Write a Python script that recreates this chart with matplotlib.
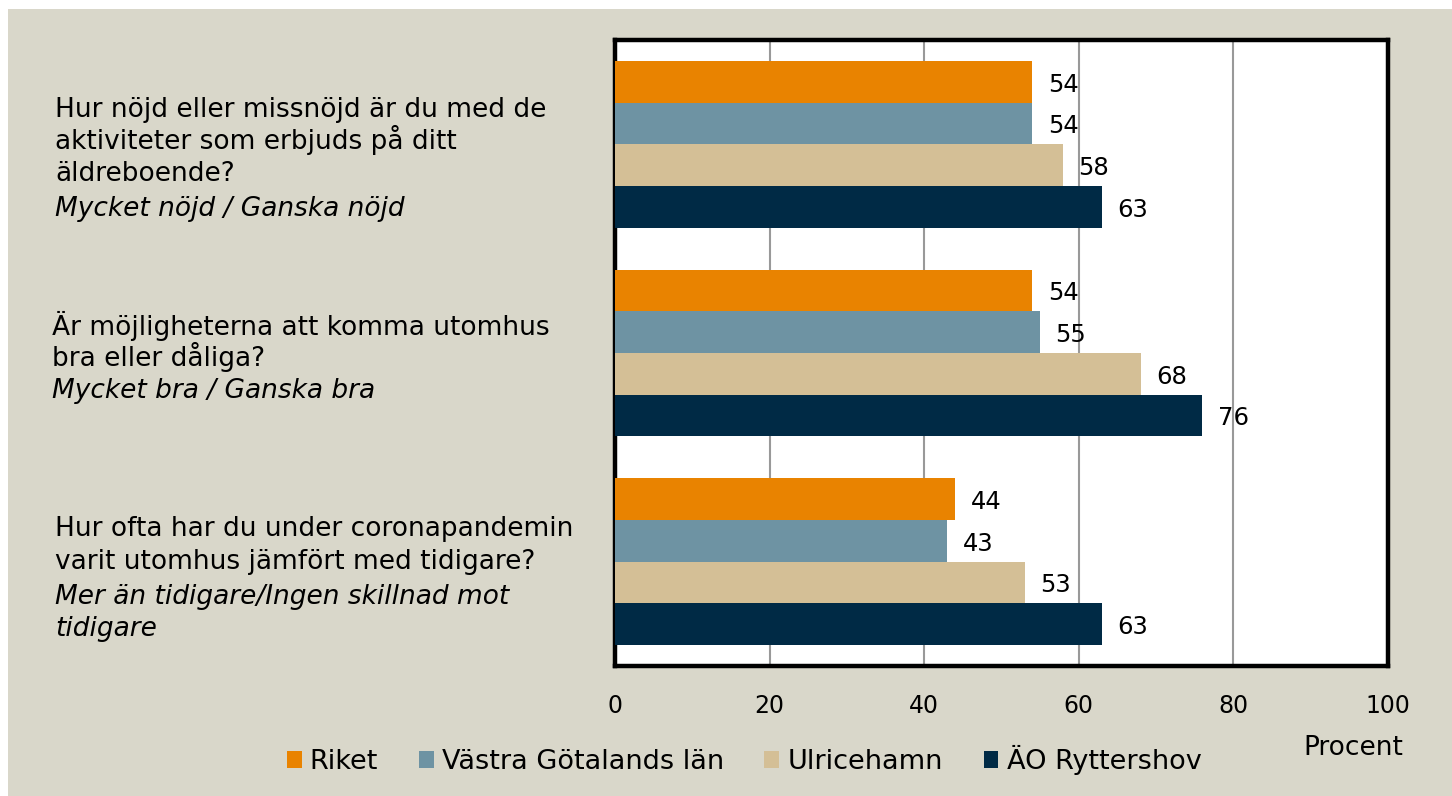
import matplotlib.pyplot as plt
from matplotlib.patches import Rectangle
import numpy as np

# data
question_lines = [["Hur nöjd eller missnöjd är du med de", "aktiviteter som erbjuds på ditt", "äldreboende?"],
                  ["Är möjligheterna att komma utomhus", "bra eller dåliga?"],
                  ["Hur ofta har du under coronapandemin", "varit utomhus jämfört med tidigare?"]]
subtitle_lines = [["Mycket nöjd / Ganska nöjd"],
                  ["Mycket bra / Ganska bra"],
                  ["Mer än tidigare/Ingen skillnad mot", "tidigare"]]
series = ["Riket", "Västra Götalands län", "Ulricehamn", "ÄO Ryttershov"]
riket = [54, 54, 44]
vg_lan = [54, 55, 43]
ulricehamn = [58, 68, 53]
ryttershov = [63, 76, 63]
values = [riket, vg_lan, ulricehamn, ryttershov]
colors = ["#E98300", "#6E93A3", "#D4BF96", "#002A45"]
bg = "#D9D7CA"

plt.rcParams['font.family'] = ['DejaVu Sans']

W, H = 1452, 796
fig = plt.figure(figsize=(W / 100, H / 100), dpi=100)
fig.patch.set_facecolor('white')
fig.patches.append(Rectangle((8 / W, 0), 1, 1 - 9 / H,
                             transform=fig.transFigure, facecolor=bg,
                             edgecolor='none', zorder=-10))

ax = fig.add_axes([615 / W, 1 - 666 / H, 773 / W, 626 / H])
ax.set_facecolor('white')

y = np.arange(len(question_lines))
h = 0.2
for i, (vals, c) in enumerate(zip(values, colors)):
    pos = y - 0.3 + i * h
    ax.barh(pos, vals, height=h, color=c, label=series[i], zorder=3)
    for p, v in zip(pos, vals):
        ax.annotate(str(v), (v, p), xytext=(11, -2), textcoords='offset points',
                    ha='left', va='center', fontsize=17.5, color='black')

ax.set_xlim(0, 100)
ax.set_ylim(2.5, -0.5)
ax.set_xticks([0, 20, 40, 60, 80, 100])
ax.set_yticks([])
ax.tick_params(axis='x', length=0, pad=20, labelsize=17)
ax.grid(axis='x', color='#999999', linewidth=1.5, zorder=0)
for s in ax.spines.values():
    s.set_linewidth(3.2)
    s.set_color('black')

# question texts on the left, one line at a time (baseline pixel rows)
baselines = [[117, 149, 181, 216], [335, 366, 398], [536, 569, 604, 636]]
xs = [55, 52, 55]
for ql, sl, bl, x0 in zip(question_lines, subtitle_lines, baselines, xs):
    for j, line in enumerate(ql + sl):
        italic = j >= len(ql)
        fig.text(x0 / W, 1 - bl[j] / H, line, ha='left', va='baseline',
                 fontsize=19, style='italic' if italic else 'normal')

fig.legend(loc='center', bbox_to_anchor=(744 / W, 1 - 760 / H), ncol=4,
           frameon=False, fontsize=19.5, handlelength=0.55, handleheight=0.55,
           handletextpad=0.3, columnspacing=1.5)
fig.text(1353 / W, 1 - 748 / H, "Procent", ha='center', va='center', fontsize=19)

fig.savefig("out.png", dpi=100, facecolor=fig.get_facecolor())
